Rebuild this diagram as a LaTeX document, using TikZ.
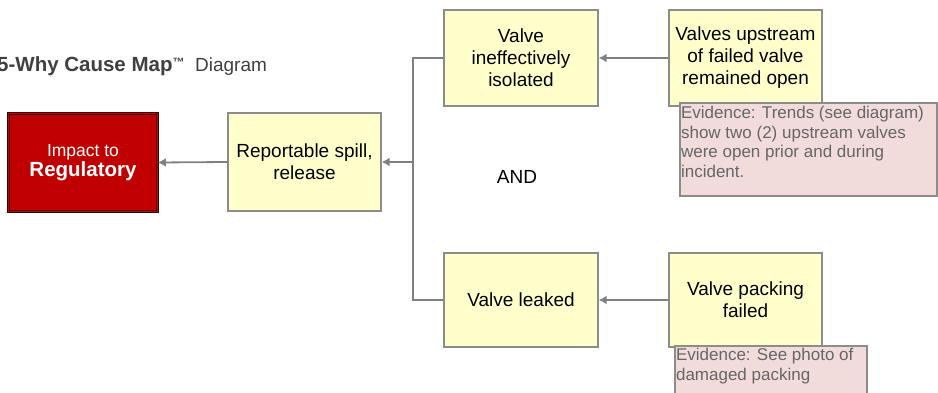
\documentclass[tikz,border=0pt]{standalone}
\usepackage{fontspec}
\setmainfont{Liberation Sans}
\usetikzlibrary{arrows.meta,positioning}
\definecolor{boxyel}{HTML}{FFFFCC}
\definecolor{boxedge}{HTML}{8C8C8C}
\definecolor{impred}{HTML}{C00000}
\definecolor{impedge}{HTML}{3A0000}
\definecolor{evfill}{HTML}{F2DCDB}
\definecolor{evtext}{HTML}{666666}
\definecolor{titlegray}{HTML}{404040}
\definecolor{linegray}{HTML}{808080}
\tikzset{
  causebox/.style={draw=boxedge, line width=1.3pt, fill=boxyel, align=center,
    font=\fontsize{19}{22}\selectfont, inner sep=2pt},
  impactbox/.style={draw=impedge, line width=0.8pt, double=impred, double distance=1.6pt,
    fill=impred, align=center, text=white, inner sep=2pt},
  evbox/.style={draw=boxedge, line width=1.3pt, fill=evfill, inner sep=0pt},
  evtxt/.style={text=evtext, align=left, font=\fontsize{17}{19.5}\selectfont, inner sep=0pt, anchor=north west},
  conn/.style={draw=linegray, line width=1.8pt},
  arr/.style={conn, -{Latex[length=8pt,width=9pt]}},
}
\begin{document}
\begin{tikzpicture}[x=1pt,y=-1pt]
\clip (0,0) rectangle (938,393);
\fill[white] (0,0) rectangle (938,393);
\node[anchor=base west, text=titlegray, inner sep=0pt] (title) at (-3,72)
  {\fontsize{20.5}{24}\selectfont\bfseries 5-Why Cause Map\raisebox{5pt}{\fontsize{12}{12}\selectfont ™}\fontsize{19}{22}\mdseries\ \ Diagram};
\node[impactbox, minimum width=149pt, minimum height=98pt] (imp) at (83,162.5)
  {\fontsize{17.5}{21}\selectfont Impact to\\[1pt]\fontsize{20.5}{22}\selectfont\bfseries Regulatory};
\node[causebox, minimum width=153pt, minimum height=98pt] (rep) at (304.5,162) {Reportable spill,\\release};
\node[causebox, minimum width=154pt, minimum height=96pt] (vi) at (521,58) {Valve\\ineffectively\\isolated};
\node[causebox, minimum width=154pt, minimum height=94pt] (vl) at (521,300) {Valve leaked};
\node[causebox, minimum width=153pt, minimum height=96pt] (vu) at (745.5,58) {Valves upstream\\of failed valve\\remained open};
\node[causebox, minimum width=153pt, minimum height=94pt] (vp) at (745.5,300) {Valve packing\\failed};
\node[evbox, minimum width=257pt, minimum height=93pt] (ev1) at (808.5,149.5) {};
\node[evtxt] (ev1t) at ([xshift=1.5pt,yshift=-4pt]ev1.north west)
  {Evidence: Trends (see diagram)\\show two (2) upstream valves\\were open prior and during\\incident.};
\node[evbox, minimum width=192pt, minimum height=74pt] (ev2) at (771,383) {};
\node[evtxt] (ev2t) at ([xshift=1.5pt,yshift=-3pt]ev2.north west)
  {Evidence: See photo of\\damaged packing};
\node[font=\fontsize{19}{22}\selectfont, inner sep=0pt] (and) at (517,177) {AND};
\coordinate (jn) at (413,162);
\draw[arr] (rep.west) -- (imp.east);
\draw[conn] (vi.west) -| (jn) |- (vl.west);
\draw[arr] (jn) -- (rep.east);
\draw[arr] (vu.west) -- (vi.east);
\draw[arr] (vp.west) -- (vl.east);
\end{tikzpicture}
\end{document}
